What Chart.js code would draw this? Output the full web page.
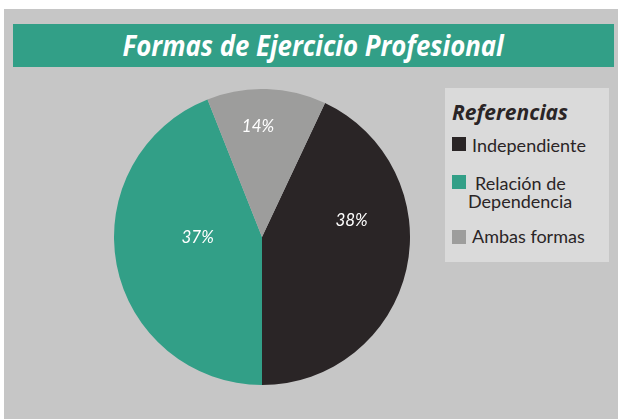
<!DOCTYPE html>
<html>
<head>
<meta charset="utf-8">
<script src="https://cdn.jsdelivr.net/npm/chart.js@4/dist/chart.umd.min.js"></script>
<style>
  html, body { margin: 0; padding: 0; background: #ffffff; width: 618px; height: 419px; overflow: hidden; }
  #panel { position: absolute; left: 4px; top: 9px; width: 614px; height: 410px; background: #c6c6c6; }
  #titlebar { position: absolute; left: 13px; top: 24px; width: 601px; height: 43px; background: #329f87;
    display: flex; align-items: center; justify-content: center; }
  #titlebar span { font-family: "Open Sans", sans-serif; font-weight: 700; font-style: italic; font-size: 28px;
    color: #ffffff; display: inline-block; transform: scaleX(0.92); white-space: nowrap; position: relative; top: -1px; }
  #legend { position: absolute; left: 445px; top: 88px; width: 164px; height: 174px; background: #dadada; }
  #legend h3 { position: absolute; left: 7px; top: 10px; margin: 0; font-family: "Open Sans", sans-serif;
    font-weight: 700; font-style: italic; font-size: 21px; color: #2a2526; white-space: nowrap; }
  .item { position: absolute; left: 7px; font-family: Lato, sans-serif; font-size: 18px; color: #2a2526; line-height: 20px; }
  .item i { position: absolute; left: 0; width: 14px; height: 14px; }
  .item span { position: absolute; white-space: nowrap; }
  #chartbox { position: absolute; left: 114px; top: 89px; width: 296px; height: 296px; }
</style>
</head>
<body>
<div id="panel"></div>
<div id="titlebar"><span id="title"></span></div>
<div id="legend"><h3 id="legendTitle"></h3></div>
<div id="chartbox"><canvas id="c" width="296" height="296"></canvas></div>
<script>
// ---- data ----
const chartTitle = "Formas de Ejercicio Profesional";
const legendHeading = "Referencias";
const categories = ["Independiente", "Relación de Dependencia", "Ambas formas"];
const sliceShares = [43, 44, 13];
// percentages printed on the slices in the reference
const printedPercent = [38, 37, 14];
const sliceColors = ["#2a2526", "#329f87", "#9d9d9c"];

document.getElementById('title').textContent = chartTitle;
document.getElementById('legendTitle').textContent = legendHeading;

// legend (HTML, built from the category list)
const legendEl = document.getElementById('legend');
const legendRows = [
  { top: 49, textTop: -2, lines: [categories[0]] },
  { top: 87, textTop: -2, lines: ["Relación de", "Dependencia"] },
  { top: 142, textTop: -4, lines: [categories[2]] }
];
legendRows.forEach((row, i) => {
  const d = document.createElement('div');
  d.className = 'item';
  d.style.top = row.top + 'px';
  const sw = document.createElement('i');
  sw.style.background = sliceColors[i];
  sw.style.top = '0px';
  d.appendChild(sw);
  row.lines.forEach((ln, k) => {
    const s = document.createElement('span');
    s.textContent = ln;
    s.style.left = (k === 0 ? (i === 1 ? 23 : 20) : 16) + 'px';
    s.style.top = (row.textTop + k * 18) + 'px';
    d.appendChild(s);
  });
  legendEl.appendChild(d);
});

// label placement per slice: [angle from 12 o'clock in degrees, fraction of radius]
const labelPlacement = [[79.8, 0.615], [-90.7, 0.435], [-2.1, 0.745]];

const sliceLabels = {
  id: 'sliceLabels',
  afterDatasetsDraw(chart) {
    const ctx = chart.ctx;
    const meta = chart.getDatasetMeta(0);
    ctx.save();
    ctx.fillStyle = '#ffffff';
    ctx.font = 'italic 17px Lato, sans-serif';
    ctx.textAlign = 'center';
    ctx.textBaseline = 'middle';
    meta.data.forEach((arc, i) => {
      const p = labelPlacement[i];
      const a = p[0] * Math.PI / 180;
      const r = arc.outerRadius * p[1];
      const x = arc.x + Math.sin(a) * r;
      const y = arc.y - Math.cos(a) * r;
      ctx.fillText(printedPercent[i] + '%', x, y);
    });
    ctx.restore();
  }
};

new Chart(document.getElementById('c'), {
  type: 'pie',
  data: {
    labels: categories,
    datasets: [{ data: sliceShares, backgroundColor: sliceColors, borderWidth: 0 }]
  },
  options: {
    responsive: false,
    animation: false,
    rotation: 25.2,
    layout: { padding: 0 },
    plugins: { legend: { display: false }, tooltip: { enabled: false }, title: { display: false } }
  },
  plugins: [sliceLabels]
});
</script>
</body>
</html>
